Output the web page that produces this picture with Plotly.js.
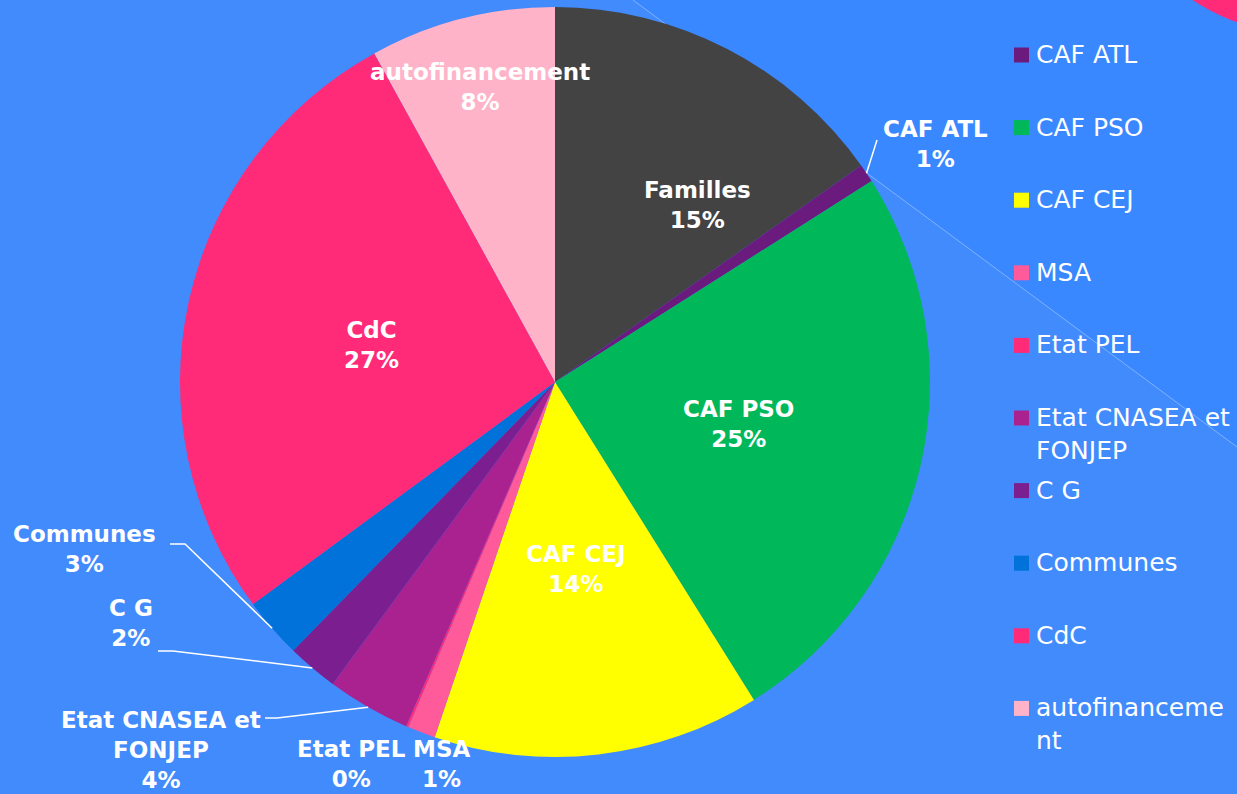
<!DOCTYPE html>
<html>
<head>
<meta charset="utf-8">
<script src="https://cdn.plot.ly/plotly-3.0.1.min.js"></script>
<style>
html,body{margin:0;padding:0;background:#428bfd;overflow:hidden;}
#chart{width:1237px;height:794px;}
</style>
</head>
<body>
<div id="chart"></div>
<script>
// ---- data ----
const categories = ["Familles","CAF ATL","CAF PSO","CAF CEJ","MSA","Etat PEL","Etat CNASEA et FONJEP","C G","Communes","CdC","autofinancement"];
const values = [15.2, 0.8, 25.1, 14.1, 1.2, 0.1, 3.6, 2.2, 2.6, 27.1, 8.0];
const sliceColors = ["#434343","#6a1b7d","#00b85a","#ffff00","#ff5a9a","#ff2a78","#aa2290","#7b1f90","#0072d9","#ff2a78","#ffb3c8"];
const legendLabels = ["CAF ATL","CAF PSO","CAF CEJ","MSA","Etat PEL","Etat CNASEA et<br>FONJEP","C G","Communes","CdC","autofinanceme<br>nt"];
const dataLabelNames = ["Familles","CAF ATL","CAF PSO","CAF CEJ","MSA","Etat PEL","Etat CNASEA et<br>FONJEP","C G","Communes","CdC","autofinancement"];

// ---- layout helpers (pixel -> paper) ----
const W = 1237, H = 794;
const X = p => p / W;
const Y = p => 1 - p / H;
const CX = 555, CY = 382, R = 375;

// label centres (pixels) and leader elbows
const labelPos = [[697,205],[935,144],[738,424],[576,569],[441,764],[351,764],[161,750],[131,623],[84,549],[371,345],[480,87]];
const leaderElbows = {1:[[877,140]], 6:[[277,718],[265,718]], 7:[[173,651],[158,651]], 8:[[185,544],[170,544]]};

const total = values.reduce((a,b)=>a+b,0);
let cum = 0;
const midAngles = values.map(v => { const a = (cum + v/2)/total*2*Math.PI; cum += v; return a; });

const annotations = [];
const shapes = [];

// background decorations
shapes.push({type:'path', xref:'paper', yref:'paper', layer:'below',
  path:`M ${X(633)},${Y(0)} L ${X(1237)},${Y(0)} L ${X(1237)},${Y(447)} Z`,
  fillcolor:'#3a88ff', line:{width:0}});
shapes.push({type:'line', xref:'paper', yref:'paper', layer:'below',
  x0:X(633), y0:Y(0), x1:X(1237), y1:Y(447), line:{color:'rgba(255,255,255,0.35)', width:1}});
shapes.push({type:'circle', xref:'paper', yref:'paper', layer:'below',
  x0:X(1310-215), x1:X(1310+215), y0:Y(-180-215), y1:Y(-180+215),
  fillcolor:'#ff2a78', line:{width:0}});

// data labels
categories.forEach((c,i) => {
  const pct = Math.round(values[i]/total*100) + '%';
  annotations.push({x:X(labelPos[i][0]), y:Y(labelPos[i][1]), xref:'paper', yref:'paper',
    text: dataLabelNames[i] + '<br>' + pct, showarrow:false, xanchor:'center', yanchor:'middle',
    font:{family:'DejaVu Sans, sans-serif', size:23, color:'#ffffff', weight:'bold'}});
  if (leaderElbows[i]) {
    const a = midAngles[i];
    const sx = CX + R*Math.sin(a), sy = CY - R*Math.cos(a);
    let path = `M ${X(sx)},${Y(sy)}`;
    leaderElbows[i].forEach(p => { path += ` L ${X(p[0])},${Y(p[1])}`; });
    shapes.push({type:'path', xref:'paper', yref:'paper', layer:'above', path:path,
      line:{color:'#ffffff', width:1.5}});
  }
});

// legend (Familles entry is off the top of the slide)
const legStartY = 55, legStep = 72.6;
legendLabels.forEach((lab,k) => {
  const i = k + 1;
  const yc = legStartY + k*legStep;
  shapes.push({type:'rect', xref:'paper', yref:'paper', layer:'above',
    x0:X(1014), x1:X(1029), y0:Y(yc-7.5), y1:Y(yc+7.5), fillcolor:sliceColors[i], line:{width:0}});
  annotations.push({x:X(1034), y:Y(yc-17), xref:'paper', yref:'paper', text:lab, showarrow:false,
    xanchor:'left', yanchor:'top', align:'left',
    font:{family:'DejaVu Sans, sans-serif', size:25, color:'#ffffff'}});
});

const trace = {
  type:'pie', labels:categories, values:values, sort:false, direction:'clockwise', rotation:0,
  marker:{colors:sliceColors, line:{width:0}}, textinfo:'none', hoverinfo:'label+percent',
  showlegend:false,
  domain:{x:[X(CX-R), X(CX+R)], y:[Y(CY+R), Y(CY-R)]}
};

const layout = {
  width:W, height:H, margin:{l:0,r:0,t:0,b:0},
  paper_bgcolor:'#428bfd', plot_bgcolor:'#428bfd',
  showlegend:false, shapes:shapes, annotations:annotations
};

Plotly.newPlot('chart', [trace], layout, {displayModeBar:false, staticPlot:true});
</script>
</body>
</html>
